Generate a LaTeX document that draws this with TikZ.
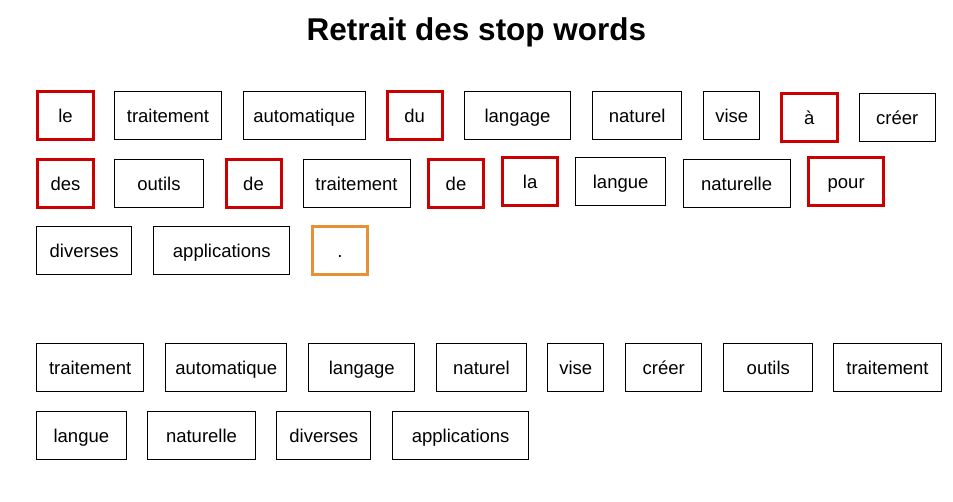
\documentclass[tikz,border=0pt]{standalone}
\usepackage{fontspec}
\setmainfont{Liberation Sans}
\usepackage{tikz}
\usetikzlibrary{positioning}

\definecolor{stopred}{HTML}{CC0000}
\definecolor{punctorange}{HTML}{E69138}

\tikzset{
  word/.style={draw=black, line width=1pt, rectangle, minimum height=48pt, outer sep=0pt,
    text height=16.5pt, text depth=3pt, font=\fontsize{18.5}{22}\selectfont},
  stop/.style={word, draw=stopred, line width=3pt},
  punct/.style={word, draw=punctorange, line width=3pt}
}

\begin{document}
\begin{tikzpicture}[x=1pt, y=1pt, node distance=22pt]
        \useasboundingbox (0,0) rectangle (953,-502);

        \node[font=\fontsize{31.5}{36}\selectfont\bfseries, anchor=base] (title) at (476.5,-41) {Retrait des stop words};

        % phrase d'origine
        \node[stop, minimum width=56pt, anchor=west] (le) at (37.5,-116) {le};
        \node[word, minimum width=107pt] (trait1) [right=21pt of le] {traitement};
        \node[word, minimum width=121.5pt] (auto) [right=22pt of trait1] {automatique};
        \node[stop, minimum width=55.3pt] (du) [right=22pt of auto] {du};
        \node[word, minimum width=106.4pt] (lang) [right=22pt of du] {langage};
        \node[word, minimum width=89pt] (nat) [right=22pt of lang] {naturel};
        \node[word, minimum width=56pt] (vise) [right=22pt of nat] {vise};
        \node[stop, minimum width=55.3pt, yshift=-1.5pt] (a) [right=22pt of vise] {à};
        \node[word, minimum width=76.4pt] (creer) [right=22pt of a] {créer};

        \node[stop, minimum width=56pt, anchor=west] (des) at (37.5,-183.5) {des};
        \node[word, minimum width=89pt] (outils) [right=21pt of des] {outils};
        \node[stop, minimum width=55pt] (de1) [right=22.5pt of outils] {de};
        \node[word, minimum width=107pt] (trait2) [right=22pt of de1] {traitement};
        \node[stop, minimum width=55pt] (de2) [right=18.5pt of trait2] {de};
        \node[stop, minimum width=55.3pt, yshift=1.5pt] (la) [right=19pt of de2] {la};
        \node[word, minimum width=89.7pt] (langue) [right=18pt of la] {langue};
        \node[word, minimum width=107pt, yshift=-1.5pt] (natle) [right=17.6pt of langue] {naturelle};
        \node[stop, minimum width=75.3pt, yshift=1.5pt] (pour) [right=18.4pt of natle] {pour};

        \node[word, minimum width=95.3pt, anchor=west] (div) at (36.5,-250.7) {diverses};
        \node[word, minimum width=136pt] (appli) [right=22pt of div] {applications};
        \node[punct, minimum width=55.3pt] (point) [right=22.4pt of appli] {.};

        % apres retrait
        \node[word, minimum width=107.3pt, anchor=west] (rtrait1) at (36.5,-367.8) {traitement};
        \node[word, minimum width=121pt] (rauto) [right=22pt of rtrait1] {automatique};
        \node[word, minimum width=106pt] (rlang) [right=22pt of rauto] {langage};
        \node[word, minimum width=89.4pt] (rnat) [right=22pt of rlang] {naturel};
        \node[word, minimum width=56pt] (rvise) [right=21.6pt of rnat] {vise};
        \node[word, minimum width=76pt] (rcreer) [right=22pt of rvise] {créer};
        \node[word, minimum width=89pt] (routils) [right=22pt of rcreer] {outils};
        \node[word, minimum width=107.4pt] (rtrait2) [right=21pt of routils] {traitement};

        \node[word, minimum width=89.7pt, anchor=west] (rlangue) at (36.5,-435.7) {langue};
        \node[word, minimum width=107.4pt] (rnatle) [right=21.6pt of rlangue] {naturelle};
        \node[word, minimum width=94pt] (rdiv) [right=21.6pt of rnatle] {diverses};
        \node[word, minimum width=135.7pt] (rappli) [right=22pt of rdiv] {applications};
      \end{tikzpicture}
\end{document}
